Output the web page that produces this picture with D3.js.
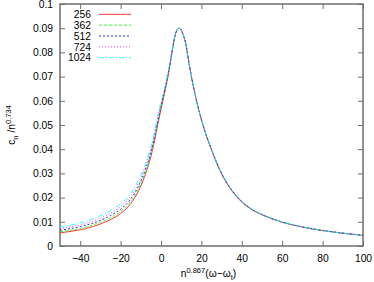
<!DOCTYPE html>
<html><head><meta charset="utf-8">
<script src="https://cdn.jsdelivr.net/npm/d3@7"></script>
<style>body{margin:0;background:#fff}svg{display:block}</style>
</head><body>
<svg id="c" width="374" height="282"></svg>
<script>
const xValues = [-50,-45,-40,-35,-30,-25,-20,-15,-10,-5,0,2,4,6,7,8,9,10,11,12,14,16,18,20,22,25,30,35,40,45,50,55,60,70,80,90,100];
const s256  = [.0054,.0060,.0067,.0077,.0091,.0109,.0134,.0175,.0248,.0370,.0565,.0640,.0725,.0826,.0870,.0893,.0900,.0892,.0872,.0845,.0748,.0660,.0585,.0522,.0467,.0397,.0297,.0229,.0181,.0150,.0129,.0112,.0098,.0078,.0064,.0053,.0044];
const s362  = [.0059,.0065,.0073,.0083,.0098,.0116,.0142,.0184,.0257,.0378,.0571,.0644,.0728,.0828,.0871,.0893,.0900,.0892,.0872,.0846,.0749,.0661,.0586,.0523,.0468,.0399,.0300,.0232,.0184,.0152,.0130,.0113,.0099,.0079,.0064,.0053,.0044];
const s512  = [.0065,.0072,.0080,.0091,.0106,.0126,.0152,.0194,.0268,.0388,.0579,.0650,.0732,.0830,.0872,.0894,.0900,.0893,.0872,.0846,.0749,.0661,.0586,.0523,.0468,.0399,.0300,.0232,.0184,.0152,.0130,.0113,.0099,.0079,.0064,.0053,.0044];
const s724  = [.0072,.0079,.0087,.0099,.0115,.0136,.0163,.0206,.0280,.0399,.0587,.0656,.0736,.0832,.0873,.0894,.0900,.0893,.0872,.0846,.0749,.0661,.0586,.0523,.0468,.0399,.0300,.0232,.0184,.0152,.0130,.0113,.0099,.0079,.0064,.0053,.0044];
const s1024 = [.0079,.0086,.0095,.0108,.0125,.0146,.0174,.0218,.0293,.0410,.0595,.0662,.0740,.0834,.0874,.0895,.0900,.0893,.0872,.0846,.0749,.0661,.0586,.0523,.0468,.0399,.0300,.0232,.0184,.0152,.0130,.0113,.0099,.0079,.0064,.0053,.0044];
const seriesNames = ["256","362","512","724","1024"];
const xTicks = [-40,-20,0,20,40,60,80,100];
const yTicks = [0,0.01,0.02,0.03,0.04,0.05,0.06,0.07,0.08,0.09,0.1];
const yTickLabels = ["0","0.01","0.02","0.03","0.04","0.05","0.06","0.07","0.08","0.09","0.1"];

const allSeries = [s256, s362, s512, s724, s1024];
const colors = ["#ff0000","#00ff00","#0000ff","#ff00ff","#00ffff"];
const dashes = [null,"3,2","2,2","1,2","5,2,1,2"];

const L = 60, R = 363, T = 4, B = 246;
const svg = d3.select("#c");
const x = d3.scaleLinear().domain([-50,100]).range([L,R]);
const y = d3.scaleLinear().domain([0,0.1]).range([B,T]);
const font = "Liberation Sans, Arial, Helvetica, sans-serif";
const fs = 10.3;

svg.append("defs").append("clipPath").attr("id","clip")
  .append("rect").attr("x",L).attr("y",T).attr("width",R-L).attr("height",B-T);

const frameColor = "#6e6e6e";
const gx = svg.append("g").attr("transform",`translate(0,${B})`)
  .call(d3.axisBottom(x).tickValues(xTicks).tickSize(-5).tickPadding(9).tickFormat(d3.format("d")));
const gxt = svg.append("g").attr("transform",`translate(0,${T})`)
  .call(d3.axisTop(x).tickValues(xTicks).tickSize(-5).tickFormat(""));
const gy = svg.append("g").attr("transform",`translate(${L},0)`)
  .call(d3.axisLeft(y).tickValues(yTicks).tickSize(-5).tickPadding(7).tickFormat((d,i)=>yTickLabels[i]));
const gyr = svg.append("g").attr("transform",`translate(${R},0)`)
  .call(d3.axisRight(y).tickValues(yTicks).tickSize(-5).tickFormat(""));
[gx,gxt,gy,gyr].forEach(g=>{
  g.select(".domain").remove();
  g.selectAll(".tick line").attr("stroke",frameColor).attr("stroke-width",1);
  g.selectAll("text").attr("font-family",font).attr("font-size",fs).attr("fill","#000");
});
svg.append("rect").attr("x",L).attr("y",T).attr("width",R-L).attr("height",B-T)
  .attr("fill","none").attr("stroke",frameColor).attr("stroke-width",1.5);

const line = d3.line().x((d,i)=>x(xValues[i])).y(d=>y(d)).curve(d3.curveMonotoneX);
const plot = svg.append("g").attr("clip-path","url(#clip)");
allSeries.forEach((s,k)=>{
  plot.append("path").datum(s).attr("d",line).attr("fill","none")
    .attr("stroke",colors[k]).attr("stroke-width",0.8)
    .attr("stroke-dasharray",dashes[k]);
});

seriesNames.forEach((n,k)=>{
  const yy = 14.3 + k*10.85;
  svg.append("text").attr("x",91).attr("y",yy+3.7).attr("text-anchor","end")
    .attr("font-family",font).attr("font-size",fs).text(n);
  svg.append("line").attr("x1",99).attr("x2",131).attr("y1",yy).attr("y2",yy)
    .attr("stroke",colors[k]).attr("stroke-width",0.8).attr("stroke-dasharray",dashes[k]);
});

const xt = svg.append("text").attr("x",(L+R)/2-3).attr("y",277).attr("text-anchor","middle")
  .attr("font-family",font).attr("font-size",fs);
xt.append("tspan").text("n");
xt.append("tspan").attr("dy",-4).attr("font-size",7.5).text("0.867");
xt.append("tspan").attr("dy",4).text("(ω−ω");
xt.append("tspan").attr("dy",2.5).attr("font-size",7.5).text("t");
xt.append("tspan").attr("dy",-2.5).text(")");

const yt = svg.append("text").attr("transform",`translate(15,${(T+B)/2}) rotate(-90)`)
  .attr("text-anchor","middle").attr("font-family",font).attr("font-size",fs);
yt.append("tspan").text("c");
yt.append("tspan").attr("dy",2.5).attr("font-size",7.5).text("n");
yt.append("tspan").attr("dy",-2.5).text(" /n");
yt.append("tspan").attr("dy",-4).attr("font-size",7.5).text("0.734");
</script>
</body></html>
